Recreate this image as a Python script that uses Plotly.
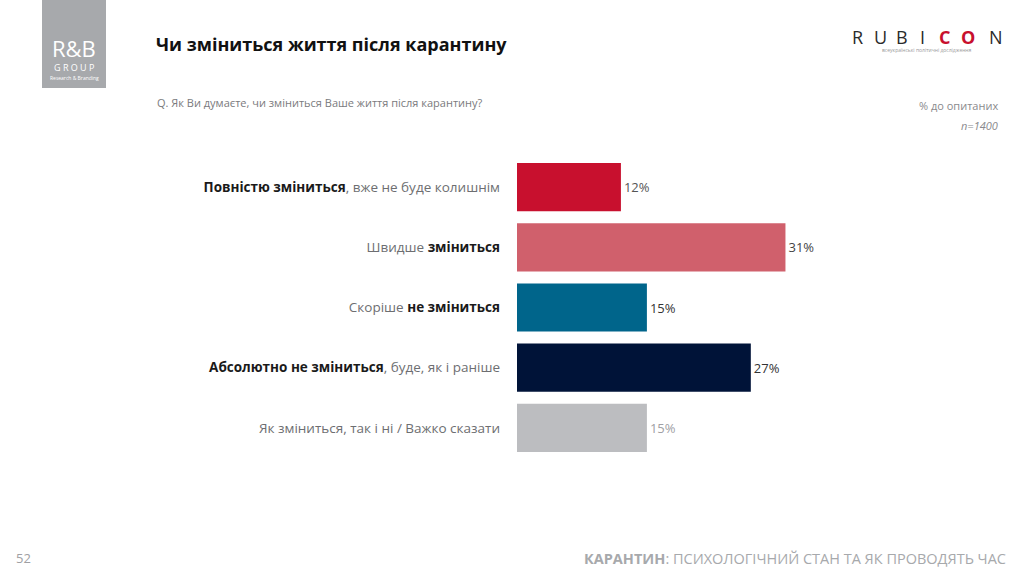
import plotly.graph_objects as go

categories = [
    "<b>Повністю зміниться</b><span style='color:#6d6e71'>, вже не буде колишнім</span>",
    "<span style='color:#6d6e71'>Швидше </span><b>зміниться</b>",
    "<span style='color:#6d6e71'>Скоріше </span><b>не зміниться</b>",
    "<b>Абсолютно не зміниться</b><span style='color:#6d6e71'>, буде, як і раніше</span>",
    "<span style='color:#6d6e71'>Як зміниться, так і ні / Важко сказати</span>",
]
values = [12, 31, 15, 27, 15]
bar_colors = ["#c8102e", "#d0606c", "#00658b", "#001338", "#bcbdc0"]
label_colors = ["#555555", "#444444", "#333333", "#333333", "#a0a0a4"]

FONT = "'Open Sans', Lato, sans-serif"

fig = go.Figure()
fig.add_trace(go.Bar(
    y=categories, x=values, orientation="h",
    marker=dict(color=bar_colors, line=dict(width=0)),
    text=[f"{v}%" for v in values], textposition="outside",
    textfont=dict(color=label_colors, size=13, family=FONT),
    cliponaxis=False, hoverinfo="skip",
))

L, R, T, B = 517, 74, 157, 118
PW = 1024 - L - R
PH = 576 - T - B

fig.update_layout(
    width=1024, height=576,
    margin=dict(l=L, r=R, t=T, b=B),
    paper_bgcolor="white", plot_bgcolor="white",
    showlegend=False, bargap=0.2,
    font=dict(family=FONT, color="#1a1a1a"),
    xaxis=dict(range=[0, 50], visible=False, fixedrange=True),
    yaxis=dict(autorange="reversed", showgrid=False, zeroline=False, showline=False,
               ticks="", tickfont=dict(size=13.5, color="#1a1a1a", family=FONT),
               ticklabelstandoff=16, fixedrange=True),
)

def px(x):
    return (x - L) / PW
def py(y):
    return (576 - B - y) / PH

shapes = [dict(type="rect", xref="paper", yref="paper",
               x0=px(42), x1=px(106), y0=py(88), y1=py(0),
               line=dict(width=0), fillcolor="#a7a9ac", layer="below")]
fig.update_layout(shapes=shapes)

ann = []
def A(x, y, text, size, color, xanchor="left", family=FONT, yanchor="middle"):
    ann.append(dict(x=px(x), y=py(y), xref="paper", yref="paper", text=text,
                    showarrow=False, xanchor=xanchor, yanchor=yanchor,
                    font=dict(size=size, color=color, family=family)))

# logo R&B
A(74, 48, "R&amp;B", 22, "white", xanchor="center")
A(74, 68, "G R O U P", 9, "white", xanchor="center")
A(74, 78, "Research &amp; Branding", 5, "white", xanchor="center")

# title & subtitle
A(154, 44, "<b>Чи зміниться життя після карантину</b>", 18, "#111111")
A(155, 102, "Q. Як Ви думаєте, чи зміниться Ваше життя після карантину?", 11, "#7a7a7d")

# RUBICON logo
letters = ["R", "U", "B", "I", "<b>C</b>", "<b>O</b>", "N"]
xs = [857, 880, 902, 922, 944, 968, 996]
cols = ["#2b2b2b"] * 4 + ["#c8102e", "#c8102e", "#2b2b2b"]
for l, x, c in zip(letters, xs, cols):
    A(x, 37, l, 18, c, xanchor="center")
A(927, 51, "всеукраїнські політичні дослідження", 5, "#9a9a9a", xanchor="center")

# sample note
A(1000, 105, "% до опитаних", 11, "#8a8a8d", xanchor="right")
A(1000, 125, "<i>n=1400</i>", 11, "#8a8a8d", xanchor="right")

# footer
A(14, 558, "52", 13, "#a0a0a4")
A(1008, 558, "<b>КАРАНТИН</b>: ПСИХОЛОГІЧНИЙ СТАН ТА ЯК ПРОВОДЯТЬ ЧАС", 14.5, "#a7a9ac", xanchor="right")

fig.update_layout(annotations=ann)
fig.write_html("out.html", config={"displayModeBar": False, "staticPlot": True},
               post_script="document.body.style.margin='0';document.body.style.overflow='hidden';")
